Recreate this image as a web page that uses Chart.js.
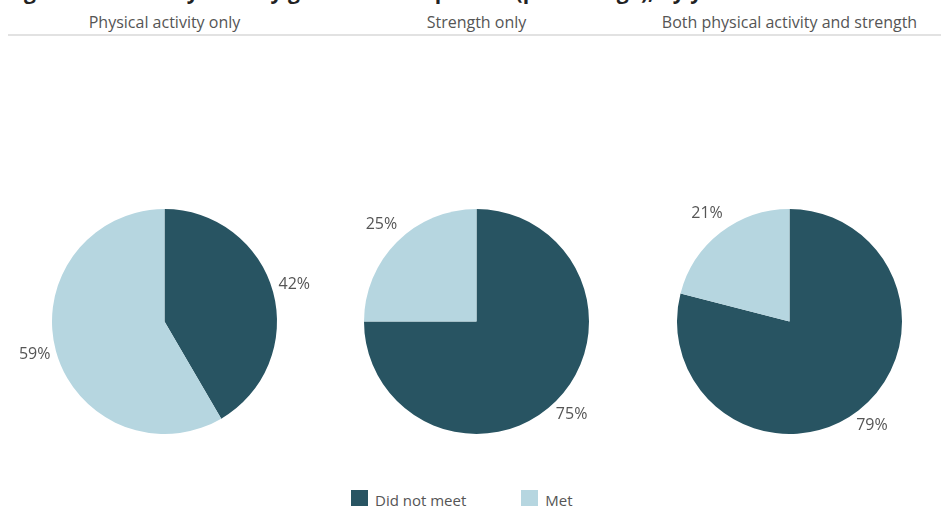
<!DOCTYPE html>
<html>
<head>
<meta charset="utf-8">
<script src="https://cdn.jsdelivr.net/npm/chart.js@4.4.1/dist/chart.umd.min.js"></script>
<style>
  body { margin: 0; width: 941px; height: 506px; overflow: hidden; background: #fff; font-family: "Open Sans", sans-serif; position: relative; }
  #title { position: absolute; left: 6px; top: -23px; font-size: 21px; font-weight: bold; color: #222; white-space: nowrap; }
  .head { position: absolute; top: 11px; width: 313px; text-align: center; font-size: 16px; color: #555; }
  #rule { position: absolute; left: 8px; right: 0; top: 34px; height: 2px; background: #e2e2e2; }
  .pie { position: absolute; top: 171px; width: 313px; height: 301px; }
  #legend { position: absolute; top: 490px; left: 351px; font-size: 15px; color: #555; }
  #legend span.sw { display: inline-block; width: 17px; height: 17px; vertical-align: top; margin-right: 7px; }
  #legend span.item { margin-right: 55px; }
</style>
</head>
<body>
<div id="title">Figure 2: Adults by activity guideline component (percentage), by year</div>
<div class="head" style="left:8px">Physical activity only</div>
<div class="head" style="left:320px">Strength only</div>
<div class="head" style="left:633px">Both physical activity and strength</div>
<div id="rule"></div>
<div class="pie" style="left:8px"><canvas id="pie1"></canvas></div>
<div class="pie" style="left:320px"><canvas id="pie2"></canvas></div>
<div class="pie" style="left:633px"><canvas id="pie3"></canvas></div>
<div id="legend"></div>

<script>
// categories and values per panel
const categories = ['Did not meet', 'Met'];
const physicalOnly = [42, 59];
const strengthOnly = [75, 25];
const bothActivity = [79, 21];

const colors = ['#285462', '#b6d6e0'];

// percentage labels placed just outside each slice
const outsideLabels = {
  id: 'outsideLabels',
  afterDatasetsDraw(chart) {
    const ctx = chart.ctx;
    const meta = chart.getDatasetMeta(0);
    const values = chart.data.datasets[0].data;
    ctx.save();
    ctx.font = '16px "Open Sans", sans-serif';
    ctx.fillStyle = '#555';
    ctx.textAlign = 'center';
    ctx.textBaseline = 'middle';
    meta.data.forEach((arc, i) => {
      const mid = (arc.startAngle + arc.endAngle) / 2;
      const r = arc.outerRadius + 22;
      ctx.fillText(values[i] + '%', arc.x + Math.cos(mid) * r, arc.y + Math.sin(mid) * r - 2);
    });
    ctx.restore();
  }
};

function createPie(id, data) {
  return new Chart(document.getElementById(id), {
    type: 'pie',
    data: {
      labels: categories,
      datasets: [{
        data: data,
        backgroundColor: colors,
        borderWidth: 0
      }]
    },
    options: {
      responsive: true,
      maintainAspectRatio: false,
      animation: false,
      layout: { padding: 38 },
      plugins: {
        legend: { display: false },
        tooltip: { enabled: false }
      }
    },
    plugins: [outsideLabels]
  });
}

createPie('pie1', physicalOnly);
createPie('pie2', strengthOnly);
createPie('pie3', bothActivity);

// shared legend
const legend = document.getElementById('legend');
categories.forEach((c, i) => {
  const item = document.createElement('span');
  item.className = 'item';
  item.innerHTML = '<span class="sw" style="background:' + colors[i] + '"></span>' + c;
  legend.appendChild(item);
});
</script>
</body>
</html>
